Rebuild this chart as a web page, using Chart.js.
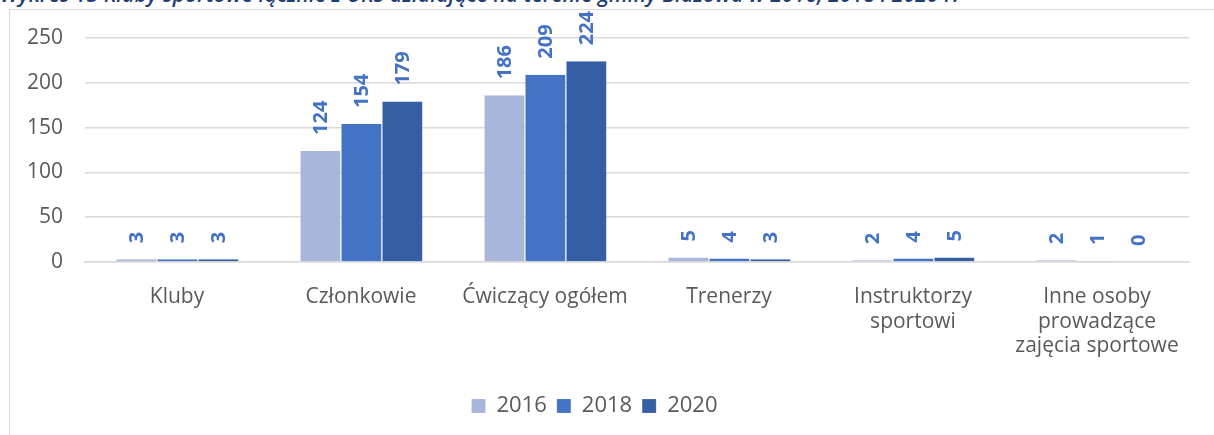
<!DOCTYPE html>
<html lang="pl">
<head>
<meta charset="utf-8">
<script src="https://cdn.jsdelivr.net/npm/chart.js@4.4.1/dist/chart.umd.min.js"></script>
<style>
  html, body { margin: 0; padding: 0; background: #fff; overflow: hidden; }
  body { width: 1214px; height: 435px; position: relative; }
  .title {
    position: absolute; left: 0; top: -20px; white-space: nowrap;
    font: italic 600 21px "Open Sans", sans-serif; color: #1F3E72;
    letter-spacing: 0.1px;
  }
  .frame {
    position: absolute; left: 9px; top: 9px; width: 1300px; height: 500px;
    border-left: 1px solid #d9d9d9; border-top: 1px solid #d9d9d9;
  }
  canvas { position: absolute; left: 0; top: 0; }
</style>
</head>
<body>
<div class="title">Wykres 13 Kluby sportowe łącznie z UKS działające na terenie gminy Błażowa w 2016, 2018 i 2020 r.</div>
<div class="frame"></div>
<canvas id="barChart" width="1214" height="435"></canvas>
<script>
const categories = [
    'Kluby',
    'Członkowie',
    'Ćwiczący ogółem',
    'Trenerzy',
    ['Instruktorzy', 'sportowi'],
    ['Inne osoby', 'prowadzące', 'zajęcia sportowe']
];
const years = ['2016', '2018', '2020'];
const values2016 = [3, 124, 186, 5, 2, 2];
const values2018 = [3, 154, 209, 4, 4, 1];
const values2020 = [3, 179, 224, 3, 5, 0];
const yTicks = [0, 50, 100, 150, 200, 250];
const colors = ['#A9B6DB', '#4472C4', '#355EA5'];

// numbers above the bars, rotated like in Excel
const valueLabels = {
    id: 'valueLabels',
    afterDatasetsDraw(chart) {
        const ctx = chart.ctx;
        ctx.save();
        ctx.font = 'bold 20px "Open Sans"';
        ctx.fillStyle = '#4472C4';
        ctx.textAlign = 'left';
        ctx.textBaseline = 'middle';
        chart.data.datasets.forEach((ds, i) => {
            chart.getDatasetMeta(i).data.forEach((bar, j) => {
                ctx.save();
                ctx.translate(bar.x + 1, bar.y - 16);
                ctx.rotate(-Math.PI / 2);
                ctx.fillText(String(ds.data[j]), 0, 0);
                ctx.restore();
            });
        });
        ctx.restore();
    }
};

const allSeries = [values2016, values2018, values2020];

var ctx = document.getElementById('barChart').getContext('2d');
var myChart = new Chart(ctx, {
    type: 'bar',
    data: {
        labels: categories,
        datasets: years.map((y, i) => ({
            label: y,
            data: allSeries[i],
            backgroundColor: colors[i],
            borderColor: 'rgba(255,255,255,0.6)',
            borderWidth: { left: 1, right: 0, top: 0, bottom: 0 },
            categoryPercentage: 0.668,
            barPercentage: 1
        }))
    },
    options: {
        responsive: false,
        animation: false,
        layout: { padding: { top: 38, right: 25, bottom: 8, left: 0 } },
        scales: {
            x: {
                grid: { display: false },
                border: { color: '#d9d9d9', width: 1.5 },
                ticks: {
                    color: '#595959',
                    font: { family: 'Open Sans', size: 21, lineHeight: 1.17 },
                    padding: 15,
                    maxRotation: 0,
                    autoSkip: false
                },
                afterFit(scale) { scale.height = 123; }
            },
            y: {
                min: 0,
                max: 250,
                afterBuildTicks(scale) { scale.ticks = yTicks.map(v => ({ value: v })); },
                grid: { color: '#d9d9d9', lineWidth: 1.5, drawTicks: false },
                border: { display: false },
                ticks: {
                    color: '#595959',
                    font: { family: 'Open Sans', size: 21 },
                    padding: 22
                },
                afterFit(scale) { scale.width = 85; }
            }
        },
        plugins: {
            legend: {
                position: 'bottom',
                labels: {
                    color: '#595959',
                    font: { family: 'Open Sans', size: 22 },
                    boxWidth: 14,
                    boxHeight: 14,
                    padding: 10
                }
            },
            tooltip: { enabled: false }
        }
    },
    plugins: [valueLabels]
});
</script>
</body>
</html>
